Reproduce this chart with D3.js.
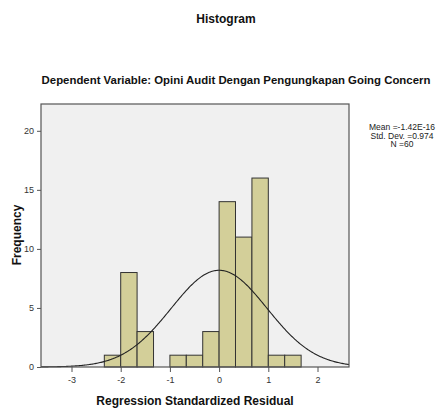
<!doctype html>
<html>
<head>
<meta charset="utf-8">
<script src="https://d3js.org/d3.v7.min.js"></script>
<style>
  body { margin: 0; background: #fff; }
  text { font-family: "Liberation Sans", Arial, sans-serif; }
</style>
</head>
<body>
<svg id="chart" width="440" height="408"></svg>
<script>
// histogram bins (lower edge, upper edge) and counts
var binStarts = [-2.333, -2, -1.667, -1.333, -1, -0.667, -0.333, 0, 0.333, 0.667, 1, 1.333];
var binEnds   = [-2, -1.667, -1.333, -1, -0.667, -0.333, 0, 0.333, 0.667, 1, 1.333, 1.667];
var counts    = [1, 8, 3, 0, 1, 1, 3, 14, 11, 16, 1, 1];
var xTicks = [-3, -2, -1, 0, 1, 2];
var yTicks = [0, 5, 10, 15, 20];
var mean = 0, sd = 0.974, n = 60, binW = 1 / 3;
var statLines = ["Mean =-1.42E-16", "Std. Dev. =0.974", "N =60"];

var svg = d3.select("#chart");
var pLeft = 41, pRight = 349, pTop = 104, pBottom = 367;

var x = d3.scaleLinear().domain([-3.62, 2.64]).range([pLeft, pRight]);
var y = d3.scaleLinear().domain([0, 22.27]).range([pBottom, pTop]);

svg.append("text").attr("x", 226).attr("y", 23).attr("text-anchor", "middle")
  .style("font-size", "12px").style("font-weight", "bold").attr("fill", "#111").text("Histogram");
svg.append("text").attr("x", 236).attr("y", 84).attr("text-anchor", "middle")
  .style("font-size", "11.4px").style("font-weight", "bold").attr("fill", "#111")
  .text("Dependent Variable: Opini Audit Dengan Pengungkapan Going Concern");

// plot background
svg.append("rect").attr("x", pLeft).attr("y", pTop)
  .attr("width", pRight - pLeft).attr("height", pBottom - pTop)
  .attr("fill", "#f0f0f0");

// bars
svg.append("g").selectAll("rect")
  .data(counts.map(function(c, i){ return {a: binStarts[i], b: binEnds[i], c: c}; })
        .filter(function(d){ return d.c > 0; }))
  .enter().append("rect")
  .attr("x", function(d){ return x(d.a); })
  .attr("y", function(d){ return y(d.c); })
  .attr("width", function(d){ return x(d.b) - x(d.a); })
  .attr("height", function(d){ return y(0) - y(d.c); })
  .attr("fill", "#d3cf99").attr("stroke", "#333").attr("stroke-width", 1);

// normal curve
var pts = d3.range(-3.62, 2.645, 0.02).map(function(v){
  var z = (v - mean) / sd;
  return [v, n * binW * Math.exp(-z * z / 2) / (sd * Math.sqrt(2 * Math.PI))];
});
svg.append("path").datum(pts)
  .attr("d", d3.line().x(function(d){ return x(d[0]); }).y(function(d){ return y(d[1]); }))
  .attr("fill", "none").attr("stroke", "#222").attr("stroke-width", 1.1);

// frame
svg.append("rect").attr("x", pLeft).attr("y", pTop)
  .attr("width", pRight - pLeft).attr("height", pBottom - pTop)
  .attr("fill", "none").attr("stroke", "#555").attr("stroke-width", 1.2);

// axes
var gx = svg.append("g").attr("transform", "translate(0," + pBottom + ")")
  .call(d3.axisBottom(x).tickValues(xTicks).tickSize(5).tickSizeOuter(0).tickFormat(function(d){ return String(d); }));
var gy = svg.append("g").attr("transform", "translate(" + pLeft + ",0)")
  .call(d3.axisLeft(y).tickValues(yTicks).tickSize(4).tickSizeOuter(0));
[gx, gy].forEach(function(g){
  g.select(".domain").remove();
  g.selectAll("line").attr("stroke", "#555");
  g.selectAll("text").attr("fill", "#333").style("font-size", "9px")
    .style("font-family", "'Liberation Sans', Arial, sans-serif");
});
gx.selectAll("text").attr("dy", "0.9em");

svg.append("text").attr("x", 195).attr("y", 405).attr("text-anchor", "middle")
  .style("font-size", "12px").style("font-weight", "bold").attr("fill", "#111")
  .text("Regression Standardized Residual");
svg.append("text").attr("transform", "translate(21,235) rotate(-90)").attr("text-anchor", "middle")
  .style("font-size", "12px").style("font-weight", "bold").attr("fill", "#111")
  .text("Frequency");

svg.append("g").selectAll("text").data(statLines).enter().append("text")
  .attr("x", 402).attr("y", function(d, i){ return 130 + i * 8.5; })
  .attr("text-anchor", "middle").style("font-size", "8.5px").attr("fill", "#222")
  .text(function(d){ return d; });
</script>
</body>
</html>
